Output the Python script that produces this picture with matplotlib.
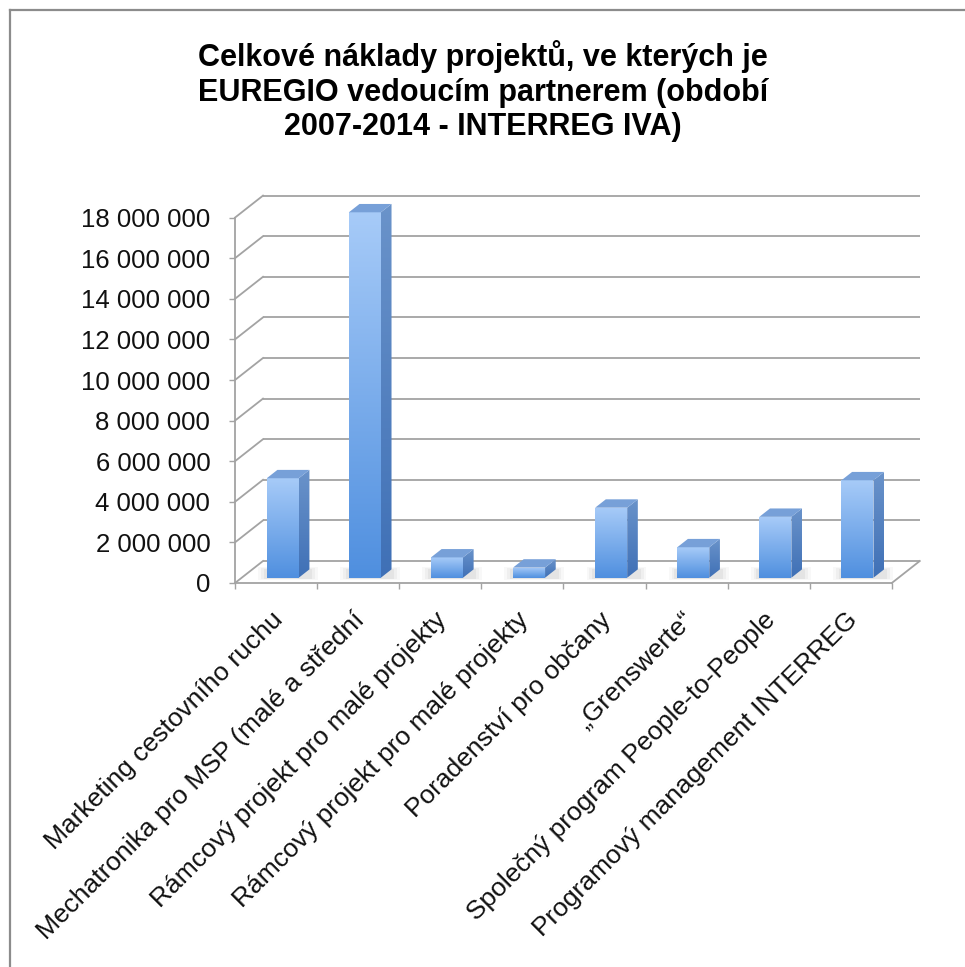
import numpy as np
import matplotlib
matplotlib.use("Agg")
import matplotlib.pyplot as plt
from matplotlib.patches import Polygon
from matplotlib.lines import Line2D
from matplotlib.colors import LinearSegmentedColormap
from matplotlib.ticker import FuncFormatter, FixedLocator
import matplotlib.transforms as mtransforms

# ---------------- data ----------------
categories = [
    "Marketing cestovního ruchu",
    "Mechatronika pro MSP (malé a střední",
    "Rámcový projekt pro malé projekty",
    "Rámcový projekt pro malé projekty",
    "Poradenství pro občany",
    "„Grenswerte“",
    "Společný program People-to-People",
    "Programový management INTERREG",
]
values = [4_900_000, 18_000_000, 1_000_000, 500_000, 3_450_000, 1_500_000, 3_000_000, 4_800_000]
y_ticks = [0, 2_000_000, 4_000_000, 6_000_000, 8_000_000, 10_000_000,
           12_000_000, 14_000_000, 16_000_000, 18_000_000]
title = ("Celkové náklady projektů, ve kterých je\n"
         "EUREGIO vedoucím partnerem (období\n"
         "2007-2014 - INTERREG IVA)")

plt.rcParams['font.family'] = ['Liberation Sans', 'DejaVu Sans']

W, H = 965, 967
fig = plt.figure(figsize=(W / 100, H / 100), dpi=100)
fig.patch.set_facecolor('white')

# outer border (only top/left visible in the cropped original)
fig.add_artist(Line2D([10 / W, 10 / W], [1 - 10 / H, 0], transform=fig.transFigure,
                      color='#8c8c8c', lw=1.6))
fig.add_artist(Line2D([10 / W, 1], [1 - 10 / H, 1 - 10 / H], transform=fig.transFigure,
                      color='#8c8c8c', lw=1.6))

px_per_cat = 82.1
px_per_unit = 20.3 / 1e6
ncat = len(categories)
xmax = 8.45
ymax = 19.4e6
ax = fig.add_axes([235 / W, (H - 583) / H, xmax * px_per_cat / W, ymax * px_per_unit / H])

# oblique depth offset (full depth) in data units
dxd = 28 / px_per_cat
dyd = 22 / px_per_unit

grid_c = '#a3a3a3'
glw = 1.3

# back wall gridlines and left wall diagonals
for v in y_ticks:
    ax.plot([dxd, ncat + dxd], [v + dyd, v + dyd], color=grid_c, lw=glw, zorder=1,
            solid_capstyle='butt', clip_on=False)
    ax.plot([0, dxd], [v, v + dyd], color=grid_c, lw=glw, zorder=1, clip_on=False)
# right floor edge
ax.plot([ncat, ncat + dxd], [0, dyd], color=grid_c, lw=glw, zorder=1, clip_on=False)

# bars
d0, d1 = 0.24, 0.62
bw = 0.39
front_cmap = LinearSegmentedColormap.from_list('front', ['#4f8fdf', '#a7cbf8'])
side_cmap = LinearSegmentedColormap.from_list('side', ['#3f70b6', '#6a93ca'])
grad = np.linspace(0, 1, 256).reshape(-1, 1)
ox0, oy0 = d0 * dxd, d0 * dyd
ddx, ddy = (d1 - d0) * dxd, (d1 - d0) * dyd

for i, v in enumerate(values):
    xc = i + 0.5 + ox0
    xl, xr = xc - bw / 2, xc + bw / 2
    yb, yt = oy0, v + oy0
    z = 5 + i
    # soft floor shadow
    for k, a in enumerate([0.05, 0.07, 0.09]):
        g = (3 - k) * 0.035
        sh = Polygon([(xl - g, yb - g * 1.2e6), (xr + ddx + g, yb - g * 1.2e6),
                      (xr + ddx + g, yb + ddy + g * 1.2e6), (xl - g, yb + ddy + g * 1.2e6)],
                     closed=True, facecolor='#808080', edgecolor='none', alpha=a, zorder=2)
        ax.add_patch(sh)
    # front face
    front = Polygon([(xl, yb), (xr, yb), (xr, yt), (xl, yt)], closed=True,
                    facecolor='none', edgecolor='none', zorder=z)
    ax.add_patch(front)
    im = ax.imshow(grad, extent=[xl, xr, yb, yt], origin='lower', cmap=front_cmap,
                   aspect='auto', zorder=z, interpolation='bilinear')
    im.set_clip_path(front)
    # side face
    side = Polygon([(xr, yb), (xr + ddx, yb + ddy), (xr + ddx, yt + ddy), (xr, yt)],
                   closed=True, facecolor='none', edgecolor='none', zorder=z)
    ax.add_patch(side)
    im2 = ax.imshow(grad, extent=[xr, xr + ddx, yb, yt + ddy], origin='lower', cmap=side_cmap,
                    aspect='auto', zorder=z, interpolation='bilinear')
    im2.set_clip_path(side)
    # top face
    top = Polygon([(xl, yt), (xr, yt), (xr + ddx, yt + ddy), (xl + ddx, yt + ddy)],
                  closed=True, facecolor='#77a0d8', edgecolor='none', zorder=z + 0.5)
    ax.add_patch(top)

ax.set_xlim(0, xmax)
ax.set_ylim(0, ymax)

# axes styling
for s in ['top', 'right']:
    ax.spines[s].set_visible(False)
ax.spines['left'].set_bounds(0, y_ticks[-1])
ax.spines['bottom'].set_bounds(0, ncat)
for s in ['left', 'bottom']:
    ax.spines[s].set_color(grid_c)
    ax.spines[s].set_linewidth(glw)
    ax.spines[s].set_zorder(3)
ax.set_facecolor('none')

ax.set_yticks(y_ticks)
ax.yaxis.set_major_formatter(FuncFormatter(lambda v, p: f"{int(round(v)):,}".replace(",", " ")))
ax.tick_params(axis='y', direction='out', length=4.3, width=1.0, color=grid_c,
               labelsize=18.5, labelcolor='#111111', pad=13.5)

ax.xaxis.set_major_locator(FixedLocator([]))
ax.xaxis.set_minor_locator(FixedLocator(list(range(ncat + 1))))
ax.tick_params(axis='x', which='minor', direction='out', length=4.3, width=1.0, color=grid_c)
ax.tick_params(axis='x', which='major', length=0)

# category labels
offset = mtransforms.ScaledTranslation(3 / 100, -33 / 100, fig.dpi_scale_trans)
for i, lab in enumerate(categories):
    ax.text(i + 0.5, 0, lab, transform=ax.transData + offset, rotation=45,
            rotation_mode='anchor', ha='right', va='center', fontsize=19,
            color='#111111', clip_on=False)

fig.text(483 / W, 1 - 40 / H, title, ha='center', va='top', fontsize=22,
         fontweight='bold', linespacing=1.2, color='black')

fig.savefig('out.png', dpi=100, facecolor='white')
